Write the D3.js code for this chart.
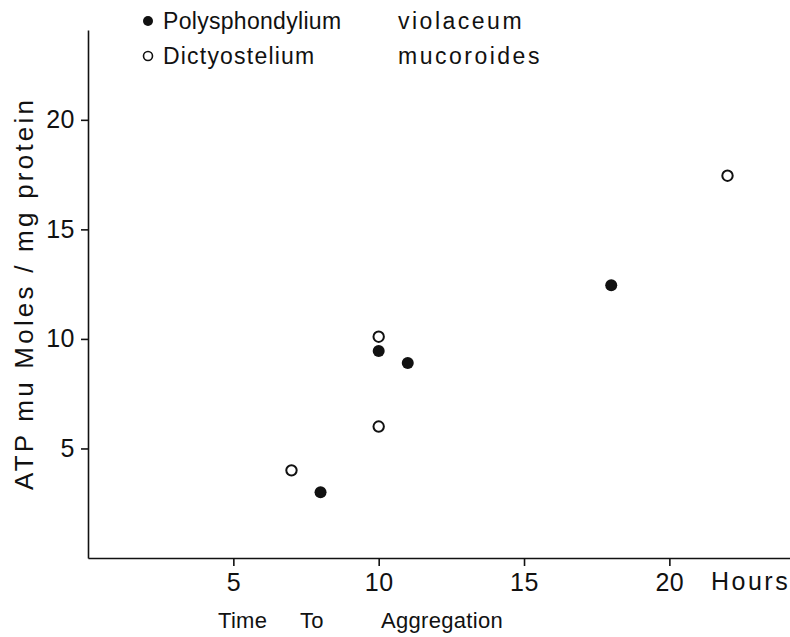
<!DOCTYPE html>
<html lang="en">
    <head>
        <meta charset="UTF-8" />
        <title>ATP vs time to aggregation</title>
        <style>
            body { margin: 0; background: #fff; }
            svg text { font-family: "Liberation Sans", "DejaVu Sans", sans-serif; fill: #111; }
            .axis path, .axis line { stroke: #111; stroke-width: 1.6; }
            .axis text { font-size: 25px; font-family: "Liberation Sans", sans-serif; letter-spacing: 0.5px; }
        </style>
    </head>
    <body>
        <script src="https://cdn.jsdelivr.net/npm/d3@7"></script>
        <div id="app"></div>
        <script>
        // DATA
            const xTicks = [5, 10, 15, 20];
            const yTicks = [5, 10, 15, 20];
            const seriesNames = ["Polysphondylium violaceum", "Dictyostelium mucoroides"];
            const violaceumHours = [8, 10, 11, 18];
            const violaceumATP = [3.0, 9.45, 8.9, 12.45];
            const mucoroidesHours = [7, 10, 10, 22];
            const mucoroidesATP = [4.0, 10.1, 6.0, 17.45];

        // SVG
            const w = 790;
            const h = 637;

            const svg = d3.select("#app")
              .append("svg")
              .attr("width", w)
              .attr("height", h);

        // SCALES
            const xScale = d3.scaleLinear()
              .domain([0, 24.15])
              .range([88, 790]);

            const yScale = d3.scaleLinear()
              .domain([0, 24.1])
              .range([558, 30]);

        // AXIS
            const xAxis = d3.axisBottom(xScale)
              .tickValues(xTicks)
              .tickSize(8)
              .tickSizeOuter(0)
              .tickPadding(7);

            const yAxis = d3.axisLeft(yScale)
              .tickValues(yTicks)
              .tickSize(7)
              .tickSizeOuter(0)
              .tickPadding(6);

            svg.append("g")
              .attr("class", "axis")
              .attr("transform", "translate(0," + yScale(0) + ")")
              .call(xAxis);

            svg.append("g")
              .attr("class", "axis")
              .attr("transform", "translate(" + xScale(0) + ",0)")
              .call(yAxis);

            svg.selectAll(".axis .domain").attr("fill", "none");

        // LABELS
            svg.append("text")
              .attr("x", 711)
              .attr("y", 590)
              .style("font-size", "25px")
              .style("letter-spacing", "2.5px")
              .text("Hours");

            const xLabel = [["Time", 218], ["To", 300], ["Aggregation", 381]];
            xLabel.forEach(d => {
              svg.append("text")
                .attr("x", d[1])
                .attr("y", 628)
                .style("font-size", "22px")
                .style("letter-spacing", "0.3px")
                .text(d[0]);
            });

            svg.append("text")
              .attr("transform", "translate(33,295) rotate(-90)")
              .attr("text-anchor", "middle")
              .attr("textLength", 390)
              .attr("lengthAdjust", "spacing")
              .style("font-size", "26px")
              .text("ATP  mu Moles / mg protein");

        // POINTS
            const violaceum = violaceumHours.map((d, i) => [d, violaceumATP[i]]);
            const mucoroides = mucoroidesHours.map((d, i) => [d, mucoroidesATP[i]]);

            svg.selectAll(".filled")
              .data(violaceum)
              .enter()
              .append("circle")
              .attr("class", "filled")
              .attr("cx", d => xScale(d[0]))
              .attr("cy", d => yScale(d[1]))
              .attr("r", 6)
              .attr("fill", "#111");

            svg.selectAll(".open")
              .data(mucoroides)
              .enter()
              .append("circle")
              .attr("class", "open")
              .attr("cx", d => xScale(d[0]))
              .attr("cy", d => yScale(d[1]))
              .attr("r", 5.2)
              .attr("fill", "#fff")
              .attr("stroke", "#111")
              .attr("stroke-width", 2);

        // LEGEND
            const legend = svg.append("g");
            const firstSpacing = [0.3, 1.2];
            const secondSpacing = [2.5, 2.5];
            seriesNames.forEach((name, i) => {
              const y = 21 + i * 35;
              const parts = name.split(" ");
              legend.append("circle")
                .attr("cx", 148)
                .attr("cy", y)
                .attr("r", i === 0 ? 5 : 4.5)
                .attr("fill", i === 0 ? "#111" : "#fff")
                .attr("stroke", "#111")
                .attr("stroke-width", i === 0 ? 0 : 1.6);
              legend.append("text")
                .attr("x", 163)
                .attr("y", y + 8)
                .style("font-size", "23px")
                .style("letter-spacing", firstSpacing[i] + "px")
                .text(parts[0]);
              legend.append("text")
                .attr("x", 398)
                .attr("y", y + 8)
                .style("font-size", "23px")
                .style("letter-spacing", secondSpacing[i] + "px")
                .text(parts[1]);
            });
        </script>
    </body>
</html>
